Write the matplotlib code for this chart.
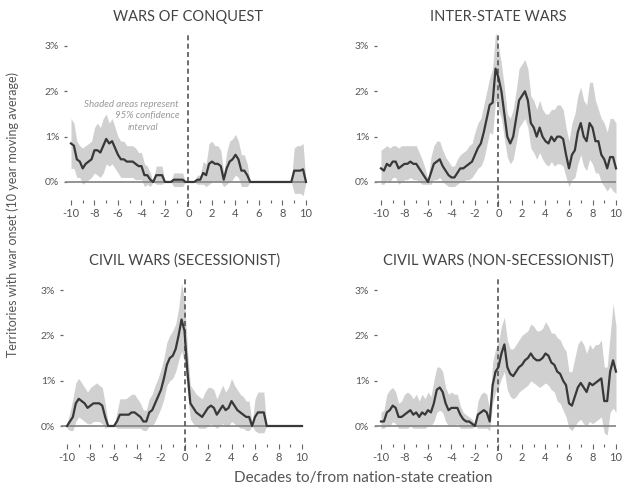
import numpy as np
import matplotlib
matplotlib.use('Agg')
import matplotlib.pyplot as plt

plt.rcParams['font.family'] = ['Lato', 'DejaVu Sans']

# decades to/from nation-state creation, quarter-decade steps
decades = np.linspace(-10, 10, 81)

titles = ['WARS OF CONQUEST', 'INTER-STATE WARS',
          'CIVIL WARS (SECESSIONIST)', 'CIVIL WARS (NON-SECESSIONIST)']

# share of territories with war onset, in %
conquest_mean = [0.85, 0.80, 0.50, 0.45, 0.30, 0.40, 0.45, 0.50, 0.70, 0.70,
                 0.65, 0.80, 0.95, 0.85, 0.90, 0.75, 0.60, 0.50, 0.50, 0.45,
                 0.45, 0.45, 0.40, 0.35, 0.35, 0.15, 0.15, 0.05, 0.00, 0.15,
                 0.15, 0.15, 0.00, 0.00, 0.00, 0.05, 0.05, 0.05, 0.05, 0.00,
                 0.00, 0.00, 0.00, 0.05, 0.05, 0.20, 0.15, 0.40, 0.45, 0.40,
                 0.40, 0.35, 0.05, 0.30, 0.45, 0.50, 0.60, 0.50, 0.25, 0.25,
                 0.15, 0.00, 0.00, 0.00, 0.00, 0.00, 0.00, 0.00, 0.00, 0.00,
                 0.00, 0.00, 0.00, 0.00, 0.00, 0.00, 0.25, 0.25, 0.25, 0.28,
                 0.00]
conquest_hi = [1.40, 1.30, 0.90, 0.80, 0.75, 0.80, 0.85, 0.90, 1.20, 1.30,
               1.20, 1.40, 1.50, 1.30, 1.40, 1.20, 1.00, 0.90, 0.90, 0.80,
               0.80, 0.80, 0.75, 0.65, 0.65, 0.40, 0.35, 0.20, 0.00, 0.35,
               0.35, 0.35, 0.00, 0.00, 0.00, 0.20, 0.20, 0.20, 0.20, 0.00,
               0.00, 0.00, 0.00, 0.15, 0.15, 0.45, 0.40, 0.85, 0.90, 0.80,
               0.80, 0.70, 0.20, 0.65, 0.90, 0.95, 1.05, 0.90, 0.60, 0.60,
               0.40, 0.00, 0.00, 0.00, 0.00, 0.00, 0.00, 0.00, 0.00, 0.00,
               0.00, 0.00, 0.00, 0.00, 0.00, 0.00, 0.75, 0.80, 0.80, 0.85,
               0.00]
conquest_lo = [0.30, 0.30, 0.10, 0.10, -0.05, 0.00, 0.05, 0.10, 0.20, 0.15,
               0.10, 0.20, 0.40, 0.35, 0.40, 0.30, 0.20, 0.10, 0.10, 0.10,
               0.10, 0.10, 0.05, 0.05, 0.05, -0.10, -0.05, -0.10, 0.00, -0.05,
               -0.05, -0.05, 0.00, 0.00, 0.00, -0.10, -0.10, -0.10, -0.10, 0.00,
               0.00, 0.00, 0.00, -0.05, -0.05, -0.05, -0.10, -0.05, 0.00, 0.00,
               0.00, 0.00, -0.10, -0.05, 0.00, 0.05, 0.15, 0.10, -0.10, -0.10,
               -0.10, 0.00, 0.00, 0.00, 0.00, 0.00, 0.00, 0.00, 0.00, 0.00,
               0.00, 0.00, 0.00, 0.00, 0.00, 0.00, -0.25, -0.25, -0.25, -0.30,
               0.00]

interstate_mean = [0.30, 0.25, 0.40, 0.35, 0.45, 0.45, 0.30, 0.35, 0.40, 0.40,
                   0.45, 0.40, 0.40, 0.30, 0.20, 0.10, 0.00, 0.20, 0.40, 0.45,
                   0.50, 0.35, 0.25, 0.15, 0.10, 0.10, 0.20, 0.30, 0.30, 0.35,
                   0.40, 0.45, 0.60, 0.75, 0.85, 1.10, 1.40, 1.70, 1.75, 2.50,
                   2.30, 2.00, 1.50, 1.00, 0.85, 1.00, 1.40, 1.80, 1.90, 2.00,
                   1.80, 1.30, 1.20, 1.00, 1.20, 1.00, 0.90, 0.85, 1.00, 0.90,
                   1.00, 1.00, 0.95, 0.60, 0.30, 0.60, 0.70, 1.10, 1.30, 1.00,
                   0.90, 1.30, 1.20, 0.90, 0.90, 0.60, 0.50, 0.30, 0.55, 0.55,
                   0.30]
interstate_hi = [0.70, 0.75, 0.80, 0.75, 0.80, 0.80, 0.75, 0.80, 0.80, 0.80,
                 0.80, 0.80, 0.80, 0.65, 0.50, 0.30, 0.05, 0.55, 0.80, 0.90,
                 0.90, 0.70, 0.55, 0.45, 0.35, 0.35, 0.50, 0.60, 0.65, 0.70,
                 0.80, 0.85, 1.10, 1.30, 1.40, 1.70, 2.00, 2.30, 2.50, 3.30,
                 3.00, 2.60, 2.10, 1.50, 1.40, 1.60, 2.00, 2.50, 2.60, 2.70,
                 2.50, 1.90, 1.80, 1.60, 1.80, 1.60, 1.50, 1.50, 1.60, 1.60,
                 1.70, 1.70, 1.60, 1.20, 0.90, 1.30, 1.50, 1.90, 2.10, 1.80,
                 1.70, 2.20, 2.20, 1.80, 1.60, 1.40, 1.30, 1.10, 1.40, 1.40,
                 1.30]
interstate_lo = [-0.05, -0.05, 0.05, 0.00, 0.10, 0.10, -0.05, 0.00, 0.05, 0.05,
                 0.10, 0.05, 0.05, 0.00, -0.05, -0.05, -0.05, -0.05, 0.05, 0.05,
                 0.10, 0.00, -0.05, -0.10, -0.10, -0.10, -0.05, 0.00, 0.00, 0.05,
                 0.05, 0.10, 0.20, 0.30, 0.35, 0.50, 0.80, 1.10, 1.05, 1.80,
                 1.60, 1.40, 0.95, 0.55, 0.40, 0.50, 0.85, 1.20, 1.30, 1.40,
                 1.20, 0.75, 0.65, 0.50, 0.65, 0.50, 0.40, 0.35, 0.45, 0.35,
                 0.40, 0.40, 0.35, 0.10, -0.10, 0.05, 0.10, 0.40, 0.60, 0.35,
                 0.25, 0.50, 0.40, 0.20, 0.20, 0.00, -0.10, -0.20, -0.10, -0.20,
                 -0.25]

secess_mean = [0.00, 0.10, 0.20, 0.50, 0.60, 0.55, 0.50, 0.40, 0.45, 0.50,
               0.50, 0.50, 0.45, 0.20, 0.00, 0.00, 0.00, 0.10, 0.25, 0.25,
               0.25, 0.25, 0.30, 0.30, 0.25, 0.20, 0.10, 0.10, 0.30, 0.35,
               0.50, 0.65, 0.80, 1.05, 1.35, 1.50, 1.55, 1.70, 2.00, 2.35,
               2.10, 1.20, 0.50, 0.40, 0.30, 0.25, 0.20, 0.30, 0.40, 0.45,
               0.40, 0.25, 0.35, 0.45, 0.35, 0.40, 0.55, 0.45, 0.35, 0.30,
               0.25, 0.20, 0.20, 0.00, 0.20, 0.30, 0.30, 0.30, 0.00, 0.00,
               0.00, 0.00, 0.00, 0.00, 0.00, 0.00, 0.00, 0.00, 0.00, 0.00,
               0.00]
secess_hi = [0.05, 0.30, 0.60, 0.95, 1.05, 0.95, 0.85, 0.75, 0.85, 0.90,
             0.95, 0.90, 0.85, 0.50, 0.05, 0.00, 0.00, 0.30, 0.60, 0.60,
             0.60, 0.65, 0.70, 0.70, 0.60, 0.50, 0.35, 0.35, 0.60, 0.70,
             0.90, 1.05, 1.25, 1.50, 1.85, 2.00, 2.10, 2.25, 2.60, 3.15,
             2.80, 1.70, 0.90, 0.80, 0.70, 0.65, 0.60, 0.75, 0.85, 0.85,
             0.80, 0.60, 0.75, 0.90, 0.75, 0.85, 1.05, 0.90, 0.80, 0.70,
             0.65, 0.55, 0.55, 0.05, 0.60, 0.75, 0.75, 0.75, 0.00, 0.00,
             0.00, 0.00, 0.00, 0.00, 0.00, 0.00, 0.00, 0.00, 0.00, 0.00,
             0.00]
secess_lo = [-0.05, -0.10, -0.10, 0.10, 0.20, 0.15, 0.10, 0.05, 0.05, 0.10,
             0.10, 0.10, 0.05, -0.05, 0.00, 0.00, 0.00, -0.05, -0.05, -0.05,
             -0.05, -0.05, -0.05, -0.05, -0.05, -0.05, -0.10, -0.10, 0.00, 0.00,
             0.10, 0.25, 0.40, 0.60, 0.90, 1.00, 1.05, 1.20, 1.45, 1.65,
             1.40, 0.75, 0.15, 0.05, 0.00, -0.05, -0.05, -0.05, 0.00, 0.05,
             0.00, -0.05, 0.00, 0.05, 0.00, 0.00, 0.10, 0.05, 0.00, -0.05,
             -0.05, -0.10, -0.10, 0.00, -0.10, -0.15, -0.15, -0.15, 0.00, 0.00,
             0.00, 0.00, 0.00, 0.00, 0.00, 0.00, 0.00, 0.00, 0.00, 0.00,
             0.00]

nonsec_mean = [0.10, 0.10, 0.30, 0.35, 0.45, 0.40, 0.20, 0.20, 0.25, 0.30,
               0.35, 0.25, 0.30, 0.20, 0.30, 0.25, 0.35, 0.30, 0.50, 0.80,
               0.85, 0.75, 0.50, 0.35, 0.40, 0.40, 0.40, 0.25, 0.15, 0.10,
               0.10, 0.05, 0.00, 0.25, 0.30, 0.35, 0.30, 0.10, 0.90, 1.20,
               1.30, 1.60, 1.80, 1.30, 1.15, 1.10, 1.20, 1.30, 1.35, 1.45,
               1.50, 1.60, 1.50, 1.45, 1.45, 1.50, 1.60, 1.55, 1.40, 1.35,
               1.20, 1.15, 1.00, 0.90, 0.50, 0.45, 0.65, 0.85, 0.95, 0.85,
               0.75, 0.95, 0.90, 0.95, 1.00, 1.05, 0.55, 0.55, 1.20, 1.45,
               1.20]
nonsec_hi = [0.30, 0.35, 0.70, 0.80, 0.85, 0.75, 0.50, 0.55, 0.70, 0.75,
             0.70, 0.60, 0.70, 0.55, 0.70, 0.60, 0.75, 0.65, 1.00, 1.30,
             1.30, 1.20, 0.85, 0.70, 0.75, 0.70, 0.70, 0.45, 0.30, 0.25,
             0.20, 0.15, 0.05, 0.55, 0.70, 0.75, 0.70, 0.35, 1.40, 1.70,
             1.85, 2.20, 2.40, 1.90, 1.70, 1.70, 1.80, 1.90, 2.00, 2.05,
             2.10, 2.25, 2.20, 2.10, 2.10, 2.15, 2.30, 2.20, 2.05, 2.05,
             1.95, 1.90, 1.75, 1.65, 1.20, 1.20, 1.50, 1.80, 1.90, 1.80,
             1.60, 1.80, 1.70, 1.80, 1.80, 1.90, 1.30, 1.30, 2.00, 2.70,
             2.20]
nonsec_lo = [-0.05, -0.05, 0.00, 0.00, 0.10, 0.05, -0.05, -0.05, -0.05, -0.05,
             0.00, -0.05, -0.05, -0.05, -0.05, -0.05, 0.00, 0.00, 0.10, 0.30,
             0.35, 0.30, 0.10, 0.00, 0.00, 0.00, 0.05, -0.05, -0.05, -0.05,
             -0.05, -0.05, 0.00, -0.05, -0.05, -0.05, -0.05, -0.10, 0.50, 0.75,
             0.85, 1.05, 1.20, 0.80, 0.65, 0.60, 0.65, 0.75, 0.80, 0.85,
             0.90, 1.00, 0.95, 0.90, 0.85, 0.90, 0.95, 0.90, 0.80, 0.75,
             0.55, 0.50, 0.35, 0.20, -0.05, -0.10, 0.00, 0.10, 0.15, 0.05,
             0.00, 0.10, 0.05, 0.10, 0.15, 0.20, -0.15, -0.20, 0.30, 0.40,
             0.30]

series = [(conquest_mean, conquest_lo, conquest_hi),
          (interstate_mean, interstate_lo, interstate_hi),
          (secess_mean, secess_lo, secess_hi),
          (nonsec_mean, nonsec_lo, nonsec_hi)]

# axes rectangles (figure fractions)
rects = [[0.1045, 0.5472, 0.3961, 0.3962],
         [0.6021, 0.5472, 0.3961, 0.3962],
         [0.0981, 0.0512, 0.3961, 0.3962],
         [0.6021, 0.0512, 0.3961, 0.3962]]

txt = '#555555'
fig = plt.figure(figsize=(6.23, 4.92), dpi=100)

for k in range(4):
    ax = fig.add_axes(rects[k])
    m, lo, hi = series[k]
    ax.fill_between(decades, lo, hi, color='#d0d0d0', lw=0, zorder=1)
    ax.hlines(0, -10.6, 10, color='#8a8a8a', lw=1.3, zorder=2)
    ax.vlines(0, -0.55, 3.3, color='#555555', lw=1.2,
              linestyles=(0, (3, 2)), zorder=3)
    ax.plot(decades, m, color='#383838', lw=1.6, zorder=4)

    ax.set_xlim(-10.5, 10.5)
    ax.set_ylim(-0.9, 3.4)
    for s in ['top', 'right']:
        ax.spines[s].set_visible(False)
    ax.spines['bottom'].set_position(('data', -0.40))
    ax.spines['left'].set_position(('data', -10.35))
    ax.spines['bottom'].set_visible(False)
    ax.spines['left'].set_visible(False)

    ax.set_xticks(np.arange(-10, 11, 2))
    ax.set_xticks(np.arange(-9, 10, 2), minor=True)
    ax.set_xticklabels([str(v) for v in range(-10, 11, 2)])
    ax.set_yticks([0, 1, 2, 3])
    ax.set_yticklabels(['0%', '1%', '2%', '3%'])
    ax.tick_params(axis='x', which='major', direction='out', length=3.8,
                   width=0.8, color='#666666', labelsize=8, labelcolor=txt, pad=2)
    ax.tick_params(axis='x', which='minor', direction='out', length=2,
                   width=0.8, color='#666666')
    ax.tick_params(axis='y', direction='out', length=2.5, width=0.9,
                   color='#666666', labelsize=7.5, labelcolor=txt, pad=3)
    ax.patch.set_alpha(0)
    ax.set_title(titles[k], fontsize=10.5, color='#444444', pad=5)

    if k == 0:
        note = dict(fontsize=7, style='italic', color='#9a9a9a', va='center')
        ax.text(-0.8, 1.72, 'Shaded areas represent', ha='right', **note)
        ax.text(-0.75, 1.46, '95% confidence', ha='right', **note)
        ax.text(-3.9, 1.21, 'interval', ha='center', **note)

fig.text(0.021, 0.565, 'Territories with war onset (10 year moving average)',
         rotation=90, ha='center', va='center', fontsize=9, color=txt)
fig.text(0.583, 0.028, 'Decades to/from nation-state creation',
         ha='center', va='center', fontsize=11, color=txt)

plt.savefig('out.png', dpi=100)
